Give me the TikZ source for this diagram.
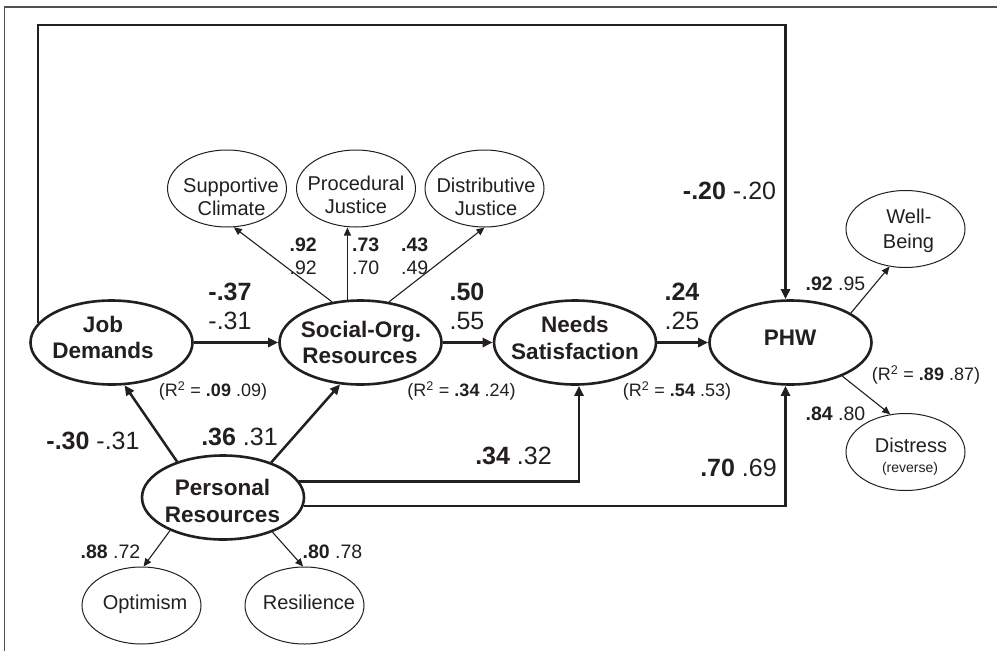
\documentclass[tikz,border=0pt]{standalone}
\usepackage{fontspec}
\setmainfont{Liberation Sans}
\usetikzlibrary{shapes.geometric,arrows.meta}
\definecolor{ink}{HTML}{231F20}
\definecolor{framegray}{HTML}{505050}
\newcommand\fbig{\fontsize{22.5}{27}\selectfont\bfseries}
\newcommand\fsml{\fontsize{20}{23}\selectfont}
\newcommand\fnum{\fontsize{25}{28}\selectfont}
\newcommand\fload{\fontsize{19.5}{23}\selectfont}
\newcommand\frsq{\fontsize{18}{21}\selectfont}
\newcommand\frev{\fontsize{14}{16}\selectfont}
\newcommand\rsq[2]{(R\textsuperscript{2} = \textbf{#1} #2)}
\begin{document}
\begin{tikzpicture}[x=1pt,y=-1pt,
  bigell/.style={ellipse, draw=ink, line width=2.6pt, minimum width=162pt, minimum height=84pt, inner sep=0pt},
  smallell/.style={ellipse, draw=ink, line width=1pt, minimum width=119pt, minimum height=77pt, inner sep=0pt},
  lbl/.style={inner sep=0pt, text=ink},
  thk/.style={draw=ink, line width=2.5pt, -{Triangle[length=10pt,width=9pt]}},
  thn/.style={draw=ink, line width=1.1pt, -{Triangle[length=8pt,width=7pt]}}]
\useasboundingbox (0,0) rectangle (997,651);
\fill[white] (0,0) rectangle (997,651);
% outer frame (cropped)
\draw[framegray, line width=1.3pt] (4.5,651) -- (4.5,7) -- (997,7);

% big latent variables
\node[bigell] (jd) at (111.5,342.5) {};
\node[bigell] (so) at (360.5,342.5) {};
\node[bigell] (ns) at (575,342.5) {};
\node[bigell] (phw) at (790.5,342.5) {};
\node[bigell] (pr) at (223,497.5) {};

% small indicators
\node[smallell] (sc) at (227,188.5) {};
\node[smallell] (pj) at (356,188.5) {};
\node[smallell] (dj) at (484.5,188.5) {};
\node[smallell] (wb) at (905.5,229) {};
\node[smallell] (ds) at (905.5,452) {};
\node[smallell] (op) at (141.5,605.5) {};
\node[smallell] (rs) at (304.5,605.5) {};

% texts of big ellipses
\node[lbl, anchor=base] (jdt1) at (103,332) {\fbig Job};
\node[lbl, anchor=base] (jdt2) at (103,358) {\fbig Demands};
\node[lbl, anchor=base] (sot1) at (361,337) {\fbig Social-Org.};
\node[lbl, anchor=base] (sot2) at (360,363) {\fbig Resources};
\node[lbl, anchor=base] (nst1) at (575,332) {\fbig Needs};
\node[lbl, anchor=base] (nst2) at (575,359) {\fbig Satisfaction};
\node[lbl, anchor=base] (phwt) at (790,345) {\fbig PHW};
\node[lbl, anchor=base] (prt1) at (222.5,495) {\fbig Personal};
\node[lbl, anchor=base] (prt2) at (222.5,522) {\fbig Resources};

% texts of small ellipses
\node[lbl, anchor=base] (sct1) at (231,192) {\fsml Supportive};
\node[lbl, anchor=base] (sct2) at (231.5,215) {\fsml Climate};
\node[lbl, anchor=base] (pjt1) at (356,190) {\fsml Procedural};
\node[lbl, anchor=base] (pjt2) at (356,213) {\fsml Justice};
\node[lbl, anchor=base] (djt1) at (486,192) {\fsml Distributive};
\node[lbl, anchor=base] (djt2) at (486,215) {\fsml Justice};
\node[lbl, anchor=base] (wbt1) at (909,223) {\fsml Well-};
\node[lbl, anchor=base] (wbt2) at (908.5,248) {\fsml Being};
\node[lbl, anchor=base] (dst1) at (911,452) {\fsml Distress};
\node[lbl, anchor=base] (dst2) at (910,472) {\frev (reverse)};
\node[lbl, anchor=base] (opt) at (145,609) {\fsml Optimism};
\node[lbl, anchor=base] (rst) at (309,609) {\fsml Resilience};

% structural paths
\coordinate (topy) at (0,25);
\draw[thk] (jd.165) -- (jd.165 |- topy) -| ([xshift=-5pt]phw.north);
\draw[thk] (jd.east) -- (so.west);
\draw[thk] (so.east) -- (ns.west);
\draw[thk] (ns.east) -- (phw.west);
\draw[thk] (pr.142) -- (jd.287);
\draw[thk] (pr.36) -- (so.244);
\draw[thk] (pr.12.8) -| ([xshift=4pt]ns.south);
\draw[thk] (pr.-6.4) -| ([xshift=-5pt]phw.south);

% measurement paths
\draw[thn] (so.125) -- (sc.280);
\draw[thn] (so.107) -- (so.107 |- pj.south);
\draw[thn] (so.55) -- (dj.south);
\draw[thn] (phw.26.9) -- (wb.247.4);
\draw[thn] (phw.-33.1) -- (ds.112.6);
\draw[thn] (pr.212.4) -- (op.87);
\draw[thn] (pr.-35.9) -- (rs.92);

% structural coefficients
\node[lbl] (c1a) at (230,292) {\fnum\bfseries -.37};
\node[lbl] (c1b) at (230,321) {\fnum -.31};
\node[lbl] (c2a) at (467,292) {\fnum\bfseries .50};
\node[lbl] (c2b) at (467,321) {\fnum .55};
\node[lbl] (c3a) at (682,292) {\fnum\bfseries .24};
\node[lbl] (c3b) at (682,321) {\fnum .25};
\node[lbl] (c4) at (729.5,191) {\fnum\textbf{-.20} -.20};
\node[lbl] (c5) at (93,441) {\fnum\textbf{-.30} -.31};
\node[lbl] (c6) at (239.5,437) {\fnum\textbf{.36} .31};
\node[lbl] (c7) at (513.5,456) {\fnum\textbf{.34} .32};
\node[lbl] (c8) at (738.5,468) {\fnum\textbf{.70} .69};

% loadings
\node[lbl, anchor=east] (l1a) at (317,245) {\fload\bfseries .92};
\node[lbl, anchor=east] (l1b) at (317,268) {\fload .92};
\node[lbl, anchor=west] (l2a) at (352,245) {\fload\bfseries .73};
\node[lbl, anchor=west] (l2b) at (352,268) {\fload .70};
\node[lbl, anchor=west] (l3a) at (401,245) {\fload\bfseries .43};
\node[lbl, anchor=west] (l3b) at (401,268) {\fload .49};
\node[lbl] (l4) at (835.5,284) {\fload\textbf{.92} .95};
\node[lbl] (l5) at (835.5,414) {\fload\textbf{.84} .80};
\node[lbl] (l6) at (110.5,552) {\fload\textbf{.88} .72};
\node[lbl] (l7) at (332.5,552) {\fload\textbf{.80} .78};

% R squared
\node[lbl] (r1) at (213,391) {\frsq\rsq{.09}{.09}};
\node[lbl] (r2) at (461.5,391) {\frsq\rsq{.34}{.24}};
\node[lbl] (r3) at (677,391) {\frsq\rsq{.54}{.53}};
\node[lbl] (r4) at (926,375) {\frsq\rsq{.89}{.87}};
\end{tikzpicture}
\end{document}
